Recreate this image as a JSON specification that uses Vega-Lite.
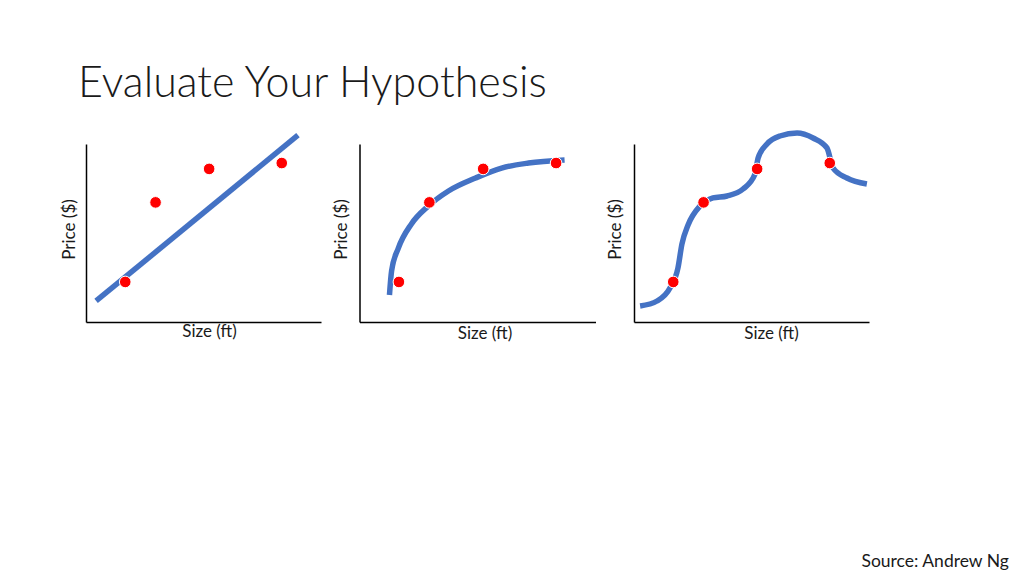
{
  "$schema": "https://vega.github.io/schema/vega-lite/v6.json",
  "background": "white",
  "padding": {"left": 60, "top": 62, "right": 10, "bottom": 0},
  "datasets": {
    "points": [
      {"size": 16.7, "price": 22.5},
      {"size": 29.6, "price": 67.2},
      {"size": 52.4, "price": 86.0},
      {"size": 83.3, "price": 89.3}
    ],
    "linear": [
      {"size": 4.3, "price": 11.8},
      {"size": 90.2, "price": 105.0}
    ],
    "sqrt": [
      {"size": 12.7, "price": 15.2},
      {"size": 13.6, "price": 28.7},
      {"size": 16.5, "price": 41.6},
      {"size": 22.0, "price": 55.1},
      {"size": 29.2, "price": 65.2},
      {"size": 37.7, "price": 73.6},
      {"size": 49.2, "price": 80.9},
      {"size": 60.2, "price": 86.5},
      {"size": 71.6, "price": 89.3},
      {"size": 86.9, "price": 91.0}
    ],
    "poly": [
      {"size": 2.6, "price": 9.0},
      {"size": 9.8, "price": 11.8},
      {"size": 15.3, "price": 19.1},
      {"size": 18.7, "price": 30.3},
      {"size": 20.4, "price": 43.8},
      {"size": 23.0, "price": 54.5},
      {"size": 28.1, "price": 65.2},
      {"size": 33.6, "price": 69.7},
      {"size": 39.6, "price": 70.8},
      {"size": 46.4, "price": 74.7},
      {"size": 51.5, "price": 83.1},
      {"size": 52.8, "price": 92.1},
      {"size": 56.6, "price": 100.0},
      {"size": 62.1, "price": 104.5},
      {"size": 69.4, "price": 106.2},
      {"size": 76.2, "price": 103.4},
      {"size": 82.1, "price": 97.8},
      {"size": 84.7, "price": 86.5},
      {"size": 90.6, "price": 80.9},
      {"size": 99.1, "price": 77.5}
    ]
  },
  "title": {
    "text": "Evaluate Your Hypothesis",
    "anchor": "start",
    "frame": "group",
    "font": "Lato",
    "fontSize": 43,
    "fontWeight": 300,
    "color": "#1a1a1a",
    "offset": 16,
    "dx": -8
  },
  "vconcat": [
    {
      "title": {
        "text": "Source: Andrew Ng",
        "orient": "bottom",
        "anchor": "end",
        "font": "Lato",
        "fontSize": 17.5,
        "fontWeight": "normal",
        "color": "#1a1a1a",
        "offset": 212,
        "dx": 131
      },
      "hconcat": [
        {
          "width": 235,
          "height": 178,
          "layer": [
            {
              "data": {"name": "linear"},
              "mark": {"type": "line", "color": "#4472C4", "strokeWidth": 5.5, "clip": false},
              "encoding": {
                "x": {"field": "size", "type": "quantitative", "scale": {"domain": [0, 100], "nice": false}, "axis": {"title": "Size (ft)", "titleX": 123, "titlePadding": 1}},
                "y": {"field": "price", "type": "quantitative", "scale": {"domain": [0, 100], "nice": false}, "axis": {"title": "Price ($)", "titleY": 85, "titlePadding": 8}}
              }
            },
            {
              "data": {"name": "points"},
              "mark": {"type": "point", "filled": true, "color": "#FF0000", "opacity": 1, "size": 135, "stroke": "white", "strokeWidth": 1},
              "encoding": {
                "x": {"field": "size", "type": "quantitative", "scale": {"domain": [0, 100], "nice": false}, "axis": {"title": "Size (ft)", "titleX": 123, "titlePadding": 1}},
                "y": {"field": "price", "type": "quantitative", "scale": {"domain": [0, 100], "nice": false}, "axis": {"title": "Price ($)", "titleY": 85, "titlePadding": 8}}
              }
            }
          ]
        },
        {
          "width": 236,
          "height": 178,
          "layer": [
            {
              "data": {"name": "sqrt"},
              "mark": {"type": "line", "color": "#4472C4", "strokeWidth": 5.5, "interpolate": "monotone", "clip": false},
              "encoding": {
                "x": {"field": "size", "type": "quantitative", "scale": {"domain": [0, 100], "nice": false}, "axis": {"title": "Size (ft)", "titleX": 125, "titlePadding": 3}},
                "y": {"field": "price", "type": "quantitative", "scale": {"domain": [0, 100], "nice": false}, "axis": {"title": "Price ($)", "titleY": 85, "titlePadding": 9}}
              }
            },
            {
              "data": {"name": "points"},
              "mark": {"type": "point", "filled": true, "color": "#FF0000", "opacity": 1, "size": 135, "stroke": "white", "strokeWidth": 1},
              "encoding": {
                "x": {"field": "size", "type": "quantitative", "scale": {"domain": [0, 100], "nice": false}, "axis": {"title": "Size (ft)", "titleX": 125, "titlePadding": 3}},
                "y": {"field": "price", "type": "quantitative", "scale": {"domain": [0, 100], "nice": false}, "axis": {"title": "Price ($)", "titleY": 85, "titlePadding": 9}}
              }
            }
          ]
        },
        {
          "width": 235,
          "height": 178,
          "layer": [
            {
              "data": {"name": "poly"},
              "mark": {"type": "line", "color": "#4472C4", "strokeWidth": 5.5, "interpolate": "monotone", "clip": false},
              "encoding": {
                "x": {"field": "size", "type": "quantitative", "scale": {"domain": [0, 100], "nice": false}, "axis": {"title": "Size (ft)", "titleX": 137, "titlePadding": 3}},
                "y": {"field": "price", "type": "quantitative", "scale": {"domain": [0, 100], "nice": false}, "axis": {"title": "Price ($)", "titleY": 85, "titlePadding": 10}}
              }
            },
            {
              "data": {"name": "points"},
              "mark": {"type": "point", "filled": true, "color": "#FF0000", "opacity": 1, "size": 135, "stroke": "white", "strokeWidth": 1},
              "encoding": {
                "x": {"field": "size", "type": "quantitative", "scale": {"domain": [0, 100], "nice": false}, "axis": {"title": "Size (ft)", "titleX": 137, "titlePadding": 3}},
                "y": {"field": "price", "type": "quantitative", "scale": {"domain": [0, 100], "nice": false}, "axis": {"title": "Price ($)", "titleY": 85, "titlePadding": 10}}
              }
            }
          ]
        }
      ],
      "spacing": 38.5,
      "bounds": "flush"
    }
  ],
  "config": {
    "view": {"stroke": null},
    "axis": {
      "labels": false,
      "ticks": false,
      "grid": false,
      "domainColor": "#000000",
      "domainWidth": 1.5,
      "titleFont": "Lato",
      "titleFontSize": 17,
      "titleFontWeight": "normal",
      "titleColor": "#1a1a1a"
    }
  }
}
